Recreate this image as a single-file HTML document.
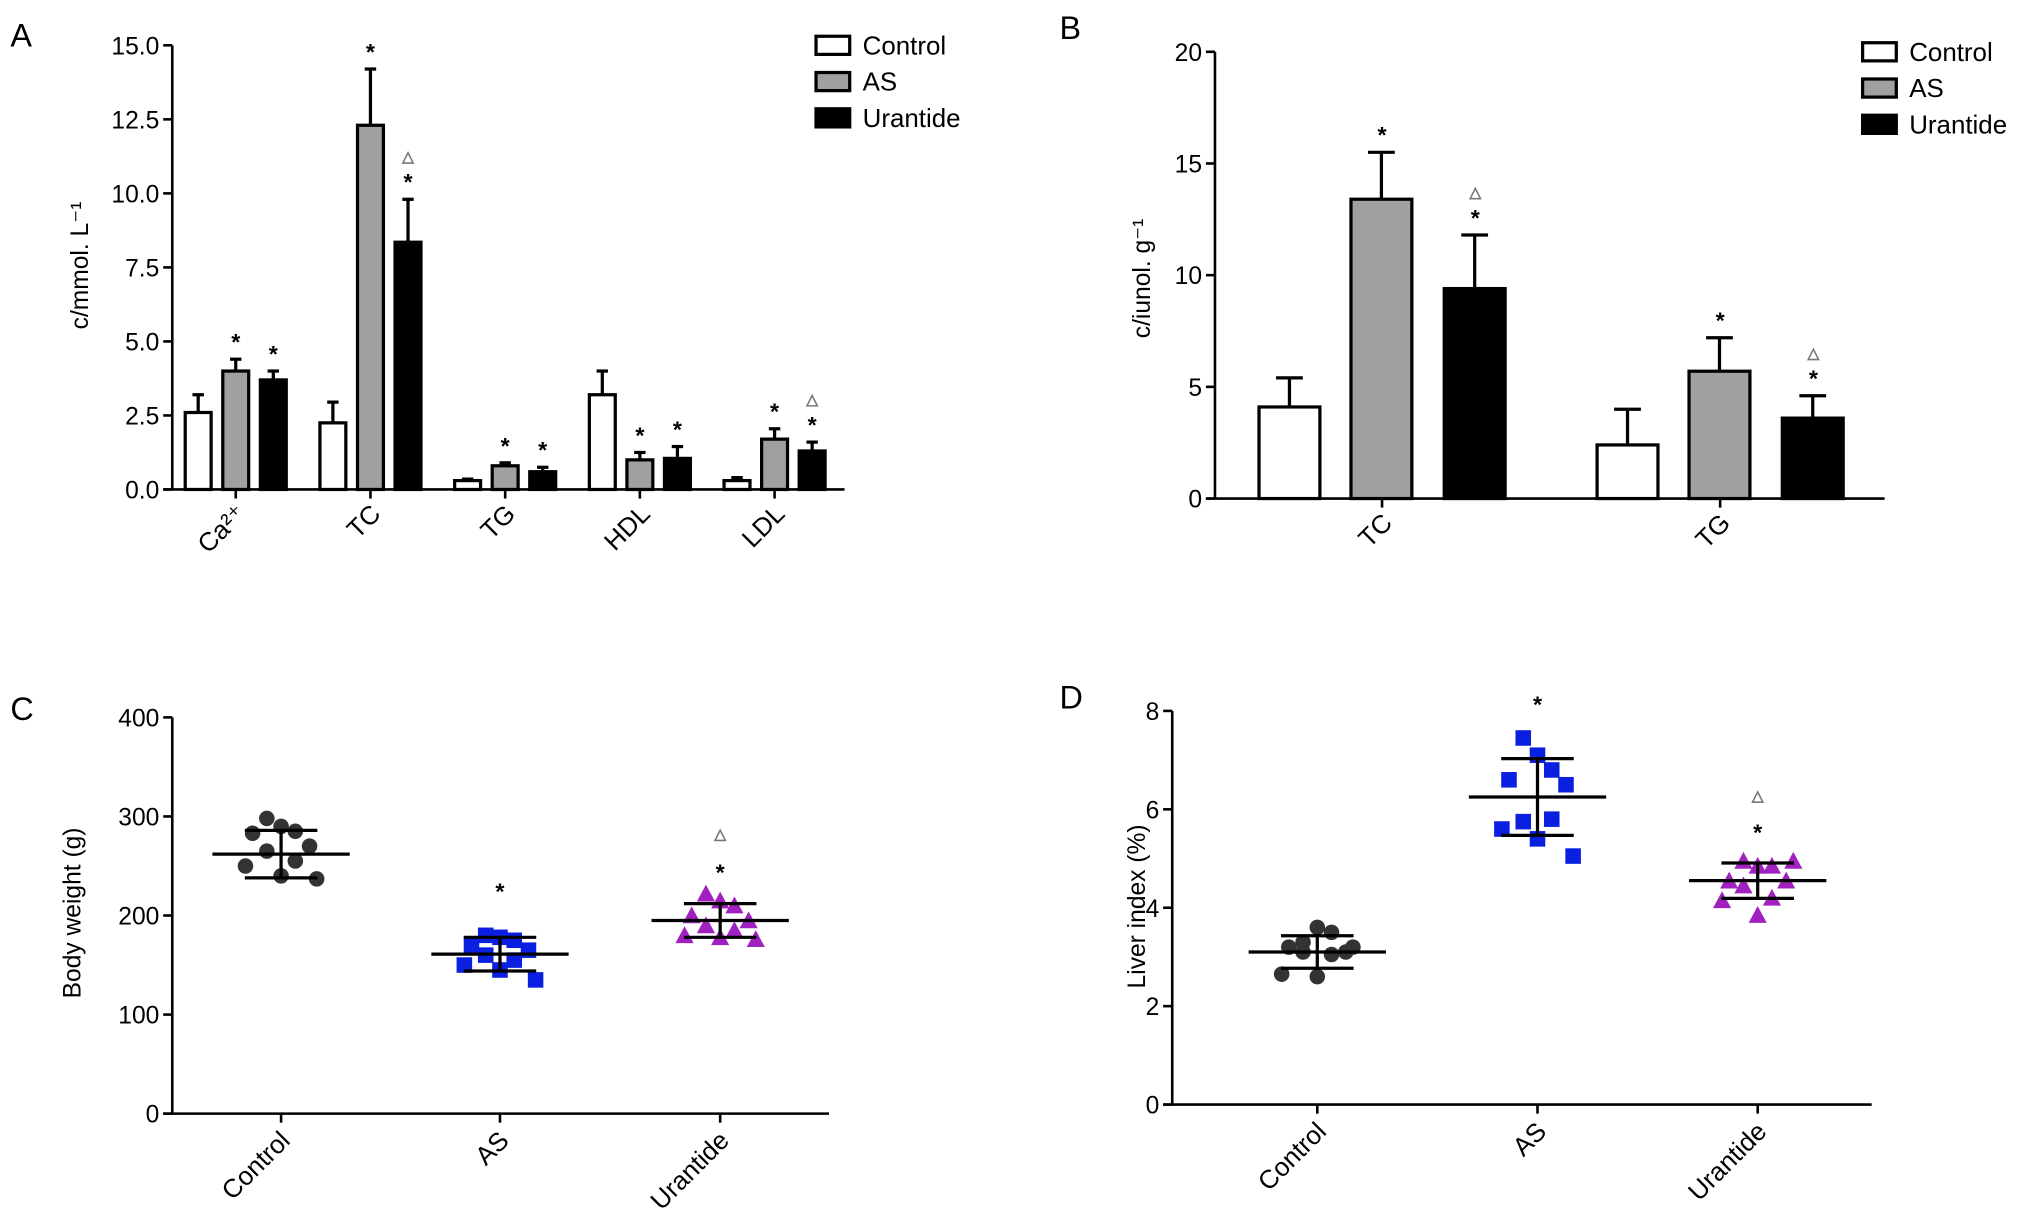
<!DOCTYPE html>
<html><head><meta charset="utf-8"><style>
html,body{margin:0;padding:0;background:#fff;}
svg{display:block;font-family:"Liberation Sans",Arial,sans-serif;}
</style></head><body>
<svg id="fig" width="2031" height="1225" viewBox="0 0 1568 946" preserveAspectRatio="none" xmlns="http://www.w3.org/2000/svg">
<text x="8" y="36" font-size="25">A</text>
<text x="818" y="30" font-size="25">B</text>
<text x="8" y="556" font-size="25">C</text>
<text x="818" y="547" font-size="25">D</text>
</svg>
<script>
const NS="http://www.w3.org/2000/svg";
const svg=document.getElementById('fig');
// ---- Panel A data ----
const aCats=["Ca","TC","TG","HDL","LDL"];
const aControl=[2.6,2.25,0.3,3.2,0.3];
const aControlErr=[0.6,0.7,0.05,0.8,0.1];
const aAS=[4.0,12.3,0.8,1.0,1.7];
const aASErr=[0.4,1.9,0.1,0.25,0.35];
const aUr=[3.7,8.35,0.6,1.05,1.3];
const aUrErr=[0.3,1.45,0.15,0.4,0.3];
const aUrTri=[false,true,false,false,true];
const aTicks=["0.0","2.5","5.0","7.5","10.0","12.5","15.0"];
// ---- Panel B data ----
const bCats=["TC","TG"];
const bControl=[4.1,2.4];
const bControlErr=[1.3,1.6];
const bAS=[13.4,5.7];
const bASErr=[2.1,1.5];
const bUr=[9.4,3.6];
const bUrErr=[2.4,1.0];
const bTicks=["0","5","10","15","20"];
// ---- Panel C data ----
const cCats=["Control","AS","Urantide"];
const cControlPts=[298,290,285,283,270,265,255,250,240,237];
const cASPts=[180,178,175,170,165,160,155,150,145,135];
const cUrPts=[222,215,210,200,195,190,185,180,178,176];
const cMean=[262,161,195];
const cSD=[24,17,17];
const cStar=[null,228,247];
const cTri=[null,null,281];
const cTicks=["0","100","200","300","400"];
// ---- Panel D data ----
const dCats=["Control","AS","Urantide"];
const dControlPts=[3.3,3.6,3.5,3.2,3.1,3.1,3.05,2.65,2.6,3.2];
const dASPts=[7.45,7.1,6.8,6.6,6.5,5.75,5.8,5.6,5.4,5.05];
const dUrPts=[4.95,4.85,4.85,4.55,4.55,4.45,4.2,4.15,3.85,4.95];
const dMean=[3.1,6.25,4.55];
const dSD=[0.33,0.78,0.36];
const dStar=[null,8.2,5.6];
const dTri=[null,null,6.25];
const dTicks=["0","2","4","6","8"];

function mk(tag,attrs,parent){const e=document.createElementNS(NS,tag);for(const k in attrs)e.setAttribute(k,attrs[k]);(parent||svg).appendChild(e);return e;}
function txt(s,attrs){const e=mk('text',attrs);e.textContent=s;return e;}
function star(x,y){const e=txt('*',{x:x,y:y+9,'font-size':18,'text-anchor':'middle','font-weight':'bold'});

}
function tri(x,y){const e=mk('path',{d:`M${x-4},${y+4}L${x+4},${y+4}L${x},${y-4}Z`,fill:'none',stroke:'#777','stroke-width':1.2});

}

function axes(x0,x1,y0,y1,ticks,vmax,fs,title,tx,ty,name){
  const ax=mk('line',{x1:x0,y1:y0,x2:x0,y2:y1,stroke:'#000','stroke-width':2});
  
  
  const bx=mk('line',{x1:x0-7,y1:y0,x2:x1,y2:y0,stroke:'#000','stroke-width':2});
  
  
  ticks.forEach((t,i)=>{const y=y0-(y0-y1)*parseFloat(t)/vmax;
    mk('line',{x1:x0-7,y1:y,x2:x0,y2:y,stroke:'#000','stroke-width':2});
    const l=txt(t,{x:x0-10,y:y+7,'font-size':fs,'text-anchor':'end'});
    
    });
  const tt=txt(title,{x:tx,y:ty,'font-size':19,'text-anchor':'middle',transform:`rotate(-90 ${tx} ${ty})`});
  
  
  return v=>y0-(y0-y1)*v/vmax;
}
function xlabel(s,x,y,name){const e=txt(s,{x:x,y:y,'font-size':20,'text-anchor':'end',transform:`rotate(-45 ${x} ${y})`});
  
  return e;}

function bar(x,w,v,err,fill,Y,y0,name){
  const top=Y(v),et=Y(v+err);
  mk('line',{x1:x+w/2,y1:top,x2:x+w/2,y2:et,stroke:'#000','stroke-width':2.5});
  mk('line',{x1:x+w/2-w*0.22,y1:et,x2:x+w/2+w*0.22,y2:et,stroke:'#000','stroke-width':2.5});
  const r=mk('rect',{x:x,y:top,width:w,height:y0-top,fill:fill,stroke:'#000','stroke-width':2.5});
  
  
  return et;
}
function legend(x,y,step,name){
  [['Control','#fff'],['AS','#a0a0a0'],['Urantide','#000']].forEach((d,i)=>{
    const r=mk('rect',{x:x,y:y+i*step,width:26,height:14,fill:d[1],stroke:'#000','stroke-width':2.5});
    
    
    const t=txt(d[0],{x:x+36,y:y+i*step+14,'font-size':20});
    
    });
}

// Panel A
{const Y=axes(133,652,378,35,aTicks,15,19,'c/mmol. L⁻¹',68,205,'panel-a');
 aCats.forEach((c,i)=>{const gx=143+i*104;
  bar(gx,20,aControl[i],aControlErr[i],'#fff',Y,378,'bar-a-control-'+c);
  let e=bar(gx+29,20,aAS[i],aASErr[i],'#a0a0a0',Y,378,'bar-a-as-'+c);
  star(gx+39,e-16);
  e=bar(gx+58,20,aUr[i],aUrErr[i],'#000',Y,378,'bar-a-urantide-'+c);
  star(gx+68,e-16); if(aUrTri[i]) tri(gx+68,e-32);
  mk('line',{x1:gx+39,y1:378,x2:gx+39,y2:385,stroke:'#000','stroke-width':2});
  const lab=c==='Ca'?'Ca²⁺':c; xlabel(lab,gx+48,398,'panel-a-x-label-'+c);});
 legend(630,28,28,'panel-a-legend');}
// Panel B
{const Y=axes(938,1455,385,40,bTicks,20,19,'c/iunol. g⁻¹',888,215,'panel-b');
 bCats.forEach((c,i)=>{const gx=972+i*261;
  bar(gx,47,bControl[i],bControlErr[i],'#fff',Y,385,'bar-b-control-'+c);
  let e=bar(gx+71,47,bAS[i],bASErr[i],'#a0a0a0',Y,385,'bar-b-as-'+c);star(gx+95,e-16);
  e=bar(gx+143,47,bUr[i],bUrErr[i],'#000',Y,385,'bar-b-urantide-'+c);star(gx+167,e-16);tri(gx+167,e-32);
  mk('line',{x1:gx+95,y1:385,x2:gx+95,y2:392,stroke:'#000','stroke-width':2});
  xlabel(c,gx+104,405,'panel-b-x-label-'+c);});
 legend(1438,33,28,'panel-b-legend');}

const JIT=[-10,0,10,-20,20,-10,10,-25,0,25];
function scatter(x0,x1,y0,y1,ticks,vmax,title,tx,ty,cats,pts,mean,sd,stars,tris,cx,name){
  const Y=axes(x0,x1,y0,y1,ticks,vmax,19,title,tx,ty,name);
  const cols=['#333','#0a1fe0','#a020c0'];
  cats.forEach((c,i)=>{const x=cx[i];
    pts[i].forEach((v,j)=>{const px=x+JIT[j]*1.1,py=Y(v);let e;
      if(i===0)e=mk('circle',{cx:px,cy:py,r:6,fill:cols[0]});
      else if(i===1)e=mk('rect',{x:px-6,y:py-6,width:12,height:12,fill:cols[1]});
      else e=mk('path',{d:`M${px-7},${py+6}L${px+7},${py+6}L${px},${py-7}Z`,fill:cols[2]});
      
      });
    const m=mk('line',{x1:x-53,y1:Y(mean[i]),x2:x+53,y2:Y(mean[i]),stroke:'#000','stroke-width':2.5});
    
    
    mk('line',{x1:x,y1:Y(mean[i]+sd[i]),x2:x,y2:Y(mean[i]-sd[i]),stroke:'#000','stroke-width':2.5});
    [1,-1].forEach(s=>mk('line',{x1:x-28,y1:Y(mean[i]+s*sd[i]),x2:x+28,y2:Y(mean[i]+s*sd[i]),stroke:'#000','stroke-width':2.5}));
    if(stars[i]!==null)star(x,Y(stars[i]));
    if(tris[i]!==null)tri(x,Y(tris[i]));
    mk('line',{x1:x,y1:y0,x2:x,y2:y0+7,stroke:'#000','stroke-width':2});
    xlabel(c,x+8,y0+22,name+'-x-label-'+c.toLowerCase());});
}
scatter(133,640,860,554,cTicks,400,'Body weight (g)',62,705,cCats,[cControlPts,cASPts,cUrPts],cMean,cSD,cStar,cTri,[217,386,556],'panel-c');
scatter(905,1445,853,549,dTicks,8,'Liver index (%)',884,700,dCats,[dControlPts,dASPts,dUrPts],dMean,dSD,dStar,dTri,[1017,1187,1357],'panel-d');
</script>
</body></html>
